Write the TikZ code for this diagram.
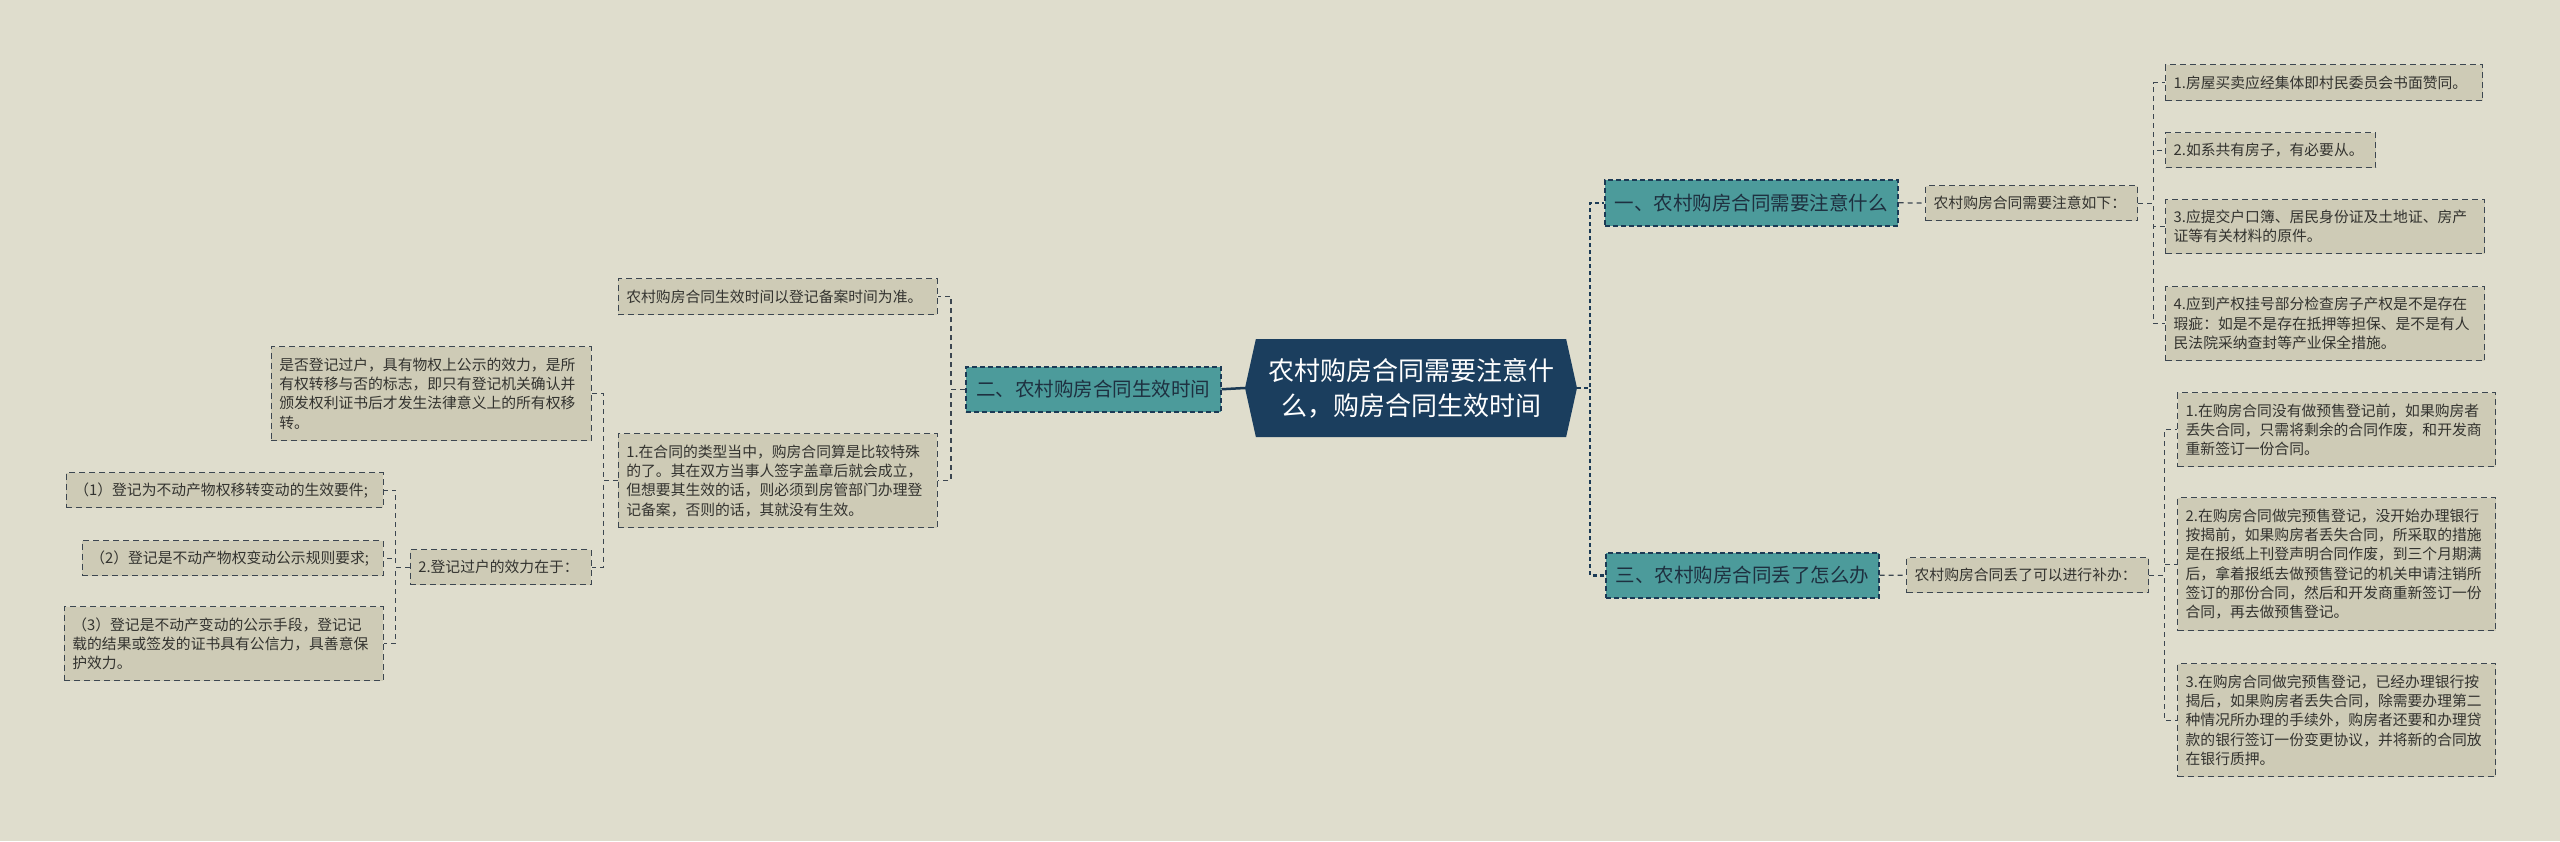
\documentclass[tikz,border=0pt]{standalone}
\usepackage{fontspec}
\setmainfont{Noto Sans CJK SC}
\usetikzlibrary{shapes.symbols}
\definecolor{bgcol}{HTML}{DFDDCD}
\definecolor{rootcol}{HTML}{1B3E5E}
\definecolor{topiccol}{HTML}{4C9B9B}
\definecolor{topictxt}{HTML}{1E3040}
\definecolor{leafcol}{HTML}{CECBB6}
\definecolor{edgecol}{HTML}{1B3A55}
\definecolor{linecol}{HTML}{3C4650}
\definecolor{txtcol}{HTML}{33332F}
\tikzset{
  root/.style={signal, signal to=east and west, signal pointer angle=155,
    fill=rootcol, text=white, minimum width=332pt, minimum height=98pt,
    inner sep=0pt, align=center, font=\fontsize{26}{35}\selectfont},
  topic/.style={draw=edgecol, line width=1.5pt, dash pattern=on 5pt off 3pt,
    fill=topiccol, text=topictxt, inner xsep=0pt, inner ysep=0pt,
    font=\fontsize{19.5}{24}\selectfont},
  leaf/.style={draw=linecol, line width=1.3pt, dash pattern=on 6pt off 4pt,
    fill=leafcol, text=txtcol, inner xsep=8pt, inner ysep=0pt, align=left,
    font=\fontsize{14.8}{19.3}\selectfont},
  trunk/.style={edgecol, line width=2.5pt, dash pattern=on 4pt off 3pt},
  twig/.style={linecol, line width=1.2pt, dash pattern=on 5pt off 4pt}
}
\begin{document}
\begin{tikzpicture}[x=1pt,y=-1pt]
      \fill[bgcol] (0,0) rectangle (2560,841);
      \useasboundingbox (0,0) rectangle (2560,841);
      \draw
        (1411,388) node[root] (r){农村购房合同需要注意什\\么，购房合同生效时间}
        (1604,179) node[topic,anchor=north west,minimum width=293pt,minimum height=46pt] (t1){一、农村购房合同需要注意什么}
        (965,366) node[topic,anchor=north west,minimum width=255pt,minimum height=45pt] (t2){二、农村购房合同生效时间}
        (1605,552) node[topic,anchor=north west,minimum width=273pt,minimum height=45pt] (t3){三、农村购房合同丢了怎么办}
        (1925,185) node[leaf,anchor=north west,text width=196pt,minimum height=35pt] (s1){农村购房合同需要注意如下：}
        (1906,557) node[leaf,anchor=north west,text width=226pt,minimum height=35pt] (s3){农村购房合同丢了可以进行补办：}
        (2165,64) node[leaf,anchor=north west,text width=301pt,minimum height=36pt] (a1){1.房屋买卖应经集体即村民委员会书面赞同。}
        (2165,132) node[leaf,anchor=north west,text width=194pt,minimum height=35pt] (a2){2.如系共有房子，有必要从。}
        (2165,199) node[leaf,anchor=north west,text width=303pt,minimum height=54pt] (a3){3.应提交户口簿、居民身份证及土地证、房产\\证等有关材料的原件。}
        (2165,286) node[leaf,anchor=north west,text width=303pt,minimum height=74pt] (a4){4.应到产权挂号部分检查房子产权是不是存在\\瑕疵：如是不是存在抵押等担保、是不是有人\\民法院采纳查封等产业保全措施。}
        (2177,392) node[leaf,anchor=north west,text width=302pt,minimum height=74pt] (c1){1.在购房合同没有做预售登记前，如果购房者\\丢失合同，只需将剩余的合同作废，和开发商\\重新签订一份合同。}
        (2177,497) node[leaf,anchor=north west,text width=302pt,minimum height=133pt] (c2){2.在购房合同做完预售登记，没开始办理银行\\按揭前，如果购房者丢失合同，所采取的措施\\是在报纸上刊登声明合同作废，到三个月期满\\后，拿着报纸去做预售登记的机关申请注销所\\签订的那份合同，然后和开发商重新签订一份\\合同，再去做预售登记。}
        (2177,663) node[leaf,anchor=north west,text width=302pt,minimum height=113pt] (c3){3.在购房合同做完预售登记，已经办理银行按\\揭后，如果购房者丢失合同，除需要办理第二\\种情况所办理的手续外，购房者还要和办理贷\\款的银行签订一份变更协议，并将新的合同放\\在银行质押。}
        (938,278) node[leaf,anchor=north east,text width=303pt,minimum height=36pt] (b1){农村购房合同生效时间以登记备案时间为准。}
        (938,433) node[leaf,anchor=north east,text width=303pt,minimum height=94pt] (b2){1.在合同的类型当中，购房合同算是比较特殊\\的了。其在双方当事人签字盖章后就会成立，\\但想要其生效的话，则必须到房管部门办理登\\记备案，否则的话，其就没有生效。}
        (592,346) node[leaf,anchor=north east,text width=304pt,minimum height=94pt] (d1){是否登记过户，具有物权上公示的效力，是所\\有权转移与否的标志，即只有登记机关确认并\\颁发权利证书后才发生法律意义上的所有权移\\转。}
        (592,549) node[leaf,anchor=north east,text width=165pt,minimum height=35pt] (d2){2.登记过户的效力在于：}
        (384,472) node[leaf,anchor=north east,text width=301pt,minimum height=35pt] (e1){（1）登记为不动产物权移转变动的生效要件;}
        (384,540) node[leaf,anchor=north east,text width=285pt,minimum height=35pt] (e2){（2）登记是不动产物权变动公示规则要求;}
        (384,606) node[leaf,anchor=north east,text width=303pt,minimum height=74pt] (e3){（3）登记是不动产变动的公示手段，登记记\\载的结果或签发的证书具有公信力，具善意保\\护效力。};
      \begin{scope}[trunk]
        \draw (r.east) -- ++(13,0) |- (t1.west);
        \draw (r.east) -- ++(13,0) |- (t3.west);
        \draw[solid] (t2.east) -- (r.west);
      \end{scope}
      \begin{scope}[twig]
        \draw (t1.east) -- (s1.west);
        \draw (t3.east) -- (s3.west);
        \draw (s1.east) -- ++(15,0) |- (a1.west);
        \draw (s1.east) -- ++(15,0) |- (a2.west);
        \draw (s1.east) -- ++(15,0) |- (a3.west);
        \draw (s1.east) -- ++(15,0) |- (a4.west);
        \draw (s3.east) -- ++(15,0) |- (c1.west);
        \draw (s3.east) -- ++(15,0) |- (c2.west);
        \draw (s3.east) -- ++(15,0) |- (c3.west);
        \draw (t2.west) -- ++(-14,0) |- (b1.east);
        \draw (t2.west) -- ++(-14,0) |- (b2.east);
        \draw (b2.west) -- ++(-14,0) |- (d1.east);
        \draw (b2.west) -- ++(-14,0) |- (d2.east);
        \draw (d2.west) -- ++(-14,0) |- (e1.east);
        \draw (d2.west) -- ++(-14,0) |- (e2.east);
        \draw (d2.west) -- ++(-14,0) |- (e3.east);
      \end{scope}
    \end{tikzpicture}
\end{document}
